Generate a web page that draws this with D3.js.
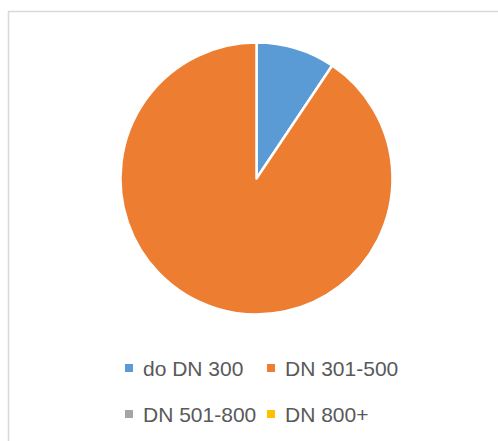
<!DOCTYPE html>
<html>
<head>
<meta charset="utf-8">
<script src="https://cdn.jsdelivr.net/npm/d3@7"></script>
<style>
  body { margin: 0; background: #fff; }
  svg { display: block; }
</style>
</head>
<body>
<script>
var categories = ["do DN 300", "DN 301-500", "DN 501-800", "DN 800+"];
var shares = [9.4, 90.6, 0, 0];
var colors = ["#5b9bd5", "#ed7d31", "#a5a5a5", "#ffc000"];

var width = 498, height = 441;

var svg = d3.select("body").append("svg")
  .attr("width", width)
  .attr("height", height);

// chart frame, runs off the right and bottom edges
svg.append("rect")
  .attr("x", 8.5)
  .attr("y", 11.5)
  .attr("width", 520)
  .attr("height", 460)
  .attr("fill", "#fff")
  .attr("stroke", "#d9d9d9")
  .attr("stroke-width", 1.5);

var data = categories.map(function(c, i) {
  return { name: c, value: shares[i], color: colors[i] };
});

var pie = d3.pie()
  .sort(null)
  .value(function(d) { return d.value; });

var arc = d3.arc()
  .innerRadius(0)
  .outerRadius(136);

var g = svg.append("g")
  .attr("transform", "translate(256.5,178.5)");

g.selectAll("path")
  .data(pie(data).filter(function(d) { return d.data.value > 0; }))
  .enter()
  .append("path")
  .attr("d", arc)
  .attr("fill", function(d) { return d.data.color; })
  .attr("stroke", "#fff")
  .attr("stroke-width", 2.5)
  .attr("stroke-linejoin", "round");

// legend, two per row
var legendX = [125, 267];
var legendY = [368, 414];

var items = svg.selectAll(".legend")
  .data(data)
  .enter()
  .append("g")
  .attr("class", "legend")
  .attr("transform", function(d, i) {
    return "translate(" + legendX[i % 2] + "," + legendY[Math.floor(i / 2)] + ")";
  });

items.append("rect")
  .attr("x", 0)
  .attr("y", -4)
  .attr("width", 8)
  .attr("height", 8)
  .attr("fill", function(d) { return d.color; });

items.append("text")
  .attr("x", 18)
  .attr("y", 0)
  .attr("dy", "0.36em")
  .attr("fill", "#595959")
  .style("font-family", "'Liberation Sans', Arial, sans-serif")
  .style("font-size", "21px")
  .text(function(d) { return d.name; });
</script>
</body>
</html>
